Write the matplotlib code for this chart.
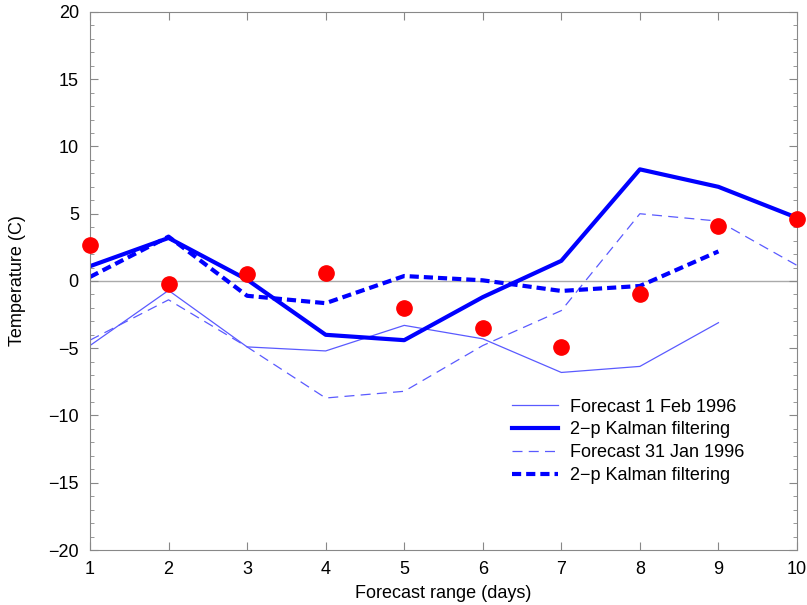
import matplotlib
matplotlib.use('Agg')
from matplotlib import pyplot as plt
from matplotlib.ticker import MultipleLocator

plt.rcParams['font.family'] = ['Liberation Sans', 'DejaVu Sans']

days = [1, 2, 3, 4, 5, 6, 7, 8, 9, 10]
observed = [2.7, -0.2, 0.5, 0.57, -2.0, -3.5, -4.9, -1.0, 4.1, 4.6]

fc_1feb = [-4.8, -0.7, -4.9, -5.2, -3.3, -4.3, -6.8, -6.35, -3.1]
kalman_1feb = [1.1, 3.2, 0.1, -4.0, -4.4, -1.2, 1.5, 8.3, 7.0, 4.7]
fc_31jan = [-4.4, -1.4, -4.9, -8.7, -8.2, -4.8, -2.2, 5.0, 4.45, 1.16]
kalman_31jan = [0.3, 3.3, -1.1, -1.65, 0.37, 0.05, -0.74, -0.37, 2.2]

fig = plt.figure(figsize=(8.07, 6.05), dpi=100)
ax = fig.add_axes([0.1115, 0.0909, 0.8761, 0.8893])

ax.axhline(0, color='#aaaaaa', linewidth=1.0, zorder=1)

ax.plot(days[:len(fc_1feb)], fc_1feb, color='#5a5aff', linewidth=0.9,
        label='Forecast 1 Feb 1996')
ax.plot(days, kalman_1feb, color='#0000ff', linewidth=3.0,
        label='2\u2212p Kalman filtering')
ax.plot(days, fc_31jan, color='#5a5aff', linewidth=0.9, dashes=(8, 5),
        label='Forecast 31 Jan 1996')
ax.plot(days[:len(kalman_31jan)], kalman_31jan, color='#0000ff', linewidth=3.0,
        dashes=(2.2, 1.2), label='2\u2212p Kalman filtering')
ax.plot(days, observed, 'o', color='#ff0000', markersize=11, zorder=5, clip_on=False)

ax.set_xlim(1, 10)
ax.set_ylim(-20, 20)
ax.xaxis.set_major_locator(MultipleLocator(1))
ax.yaxis.set_major_locator(MultipleLocator(5))
ax.yaxis.set_minor_locator(MultipleLocator(1))
ax.tick_params(which='both', direction='in', top=True, right=True,
               color='#888888', labelsize=13, pad=8)
ax.tick_params(which='major', length=6)
ax.tick_params(which='minor', length=3)
for s in ax.spines.values():
    s.set_color('#888888')

ax.set_xlabel('Forecast range (days)', fontsize=13, labelpad=5)
ax.set_ylabel('Temperature (C)', fontsize=13, labelpad=16)

ax.legend(loc='upper left', bbox_to_anchor=(0.587, 0.295), borderaxespad=0,
          frameon=False, fontsize=13, handlelength=2.55, labelspacing=0.33,
          handletextpad=0.67)

fig.savefig('out.png', dpi=100)
